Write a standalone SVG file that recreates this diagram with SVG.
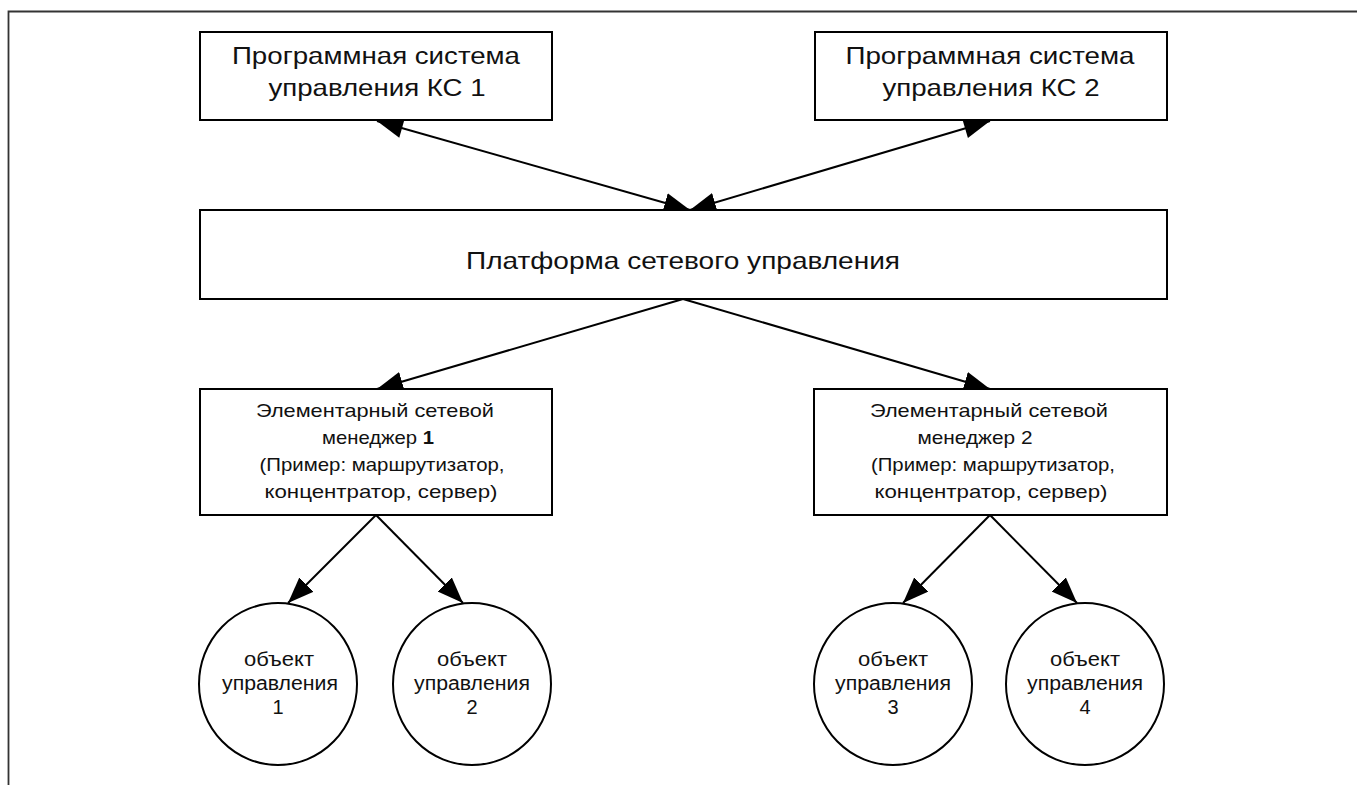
<svg xmlns="http://www.w3.org/2000/svg" width="1357" height="785" viewBox="0 0 1357 785">
<defs>
<style>
.box{fill:#fff;stroke:#000;stroke-width:2}
.frame{fill:none;stroke:#333;stroke-width:1.8}
.t{font-family:"Liberation Sans",Arial,sans-serif;fill:#111;text-anchor:middle}
.big{font-size:24px}
.mid{font-size:18.5px}
.sm{font-size:20px}
.c{fill:none;stroke:#000;stroke-width:2}
</style>
<marker id="ah" markerUnits="userSpaceOnUse" markerWidth="28" markerHeight="22" refX="26" refY="10" orient="auto">
<path d="M0,0 L26,10 L0,20 z" fill="#000"/>
</marker>
<marker id="as" markerUnits="userSpaceOnUse" markerWidth="28" markerHeight="22" refX="0" refY="10" orient="auto">
<path d="M26,0 L0,10 L26,20 z" fill="#000"/>
</marker>
</defs>
<rect width="1357" height="785" fill="#fff"/>
<path class="frame" d="M8.5,785 V11.5 H1357"/>
<g id="connectors" class="c">
<line x1="377" y1="121" x2="690" y2="210" marker-start="url(#as)" marker-end="url(#ah)"/>
<line x1="990" y1="121" x2="690" y2="210" marker-start="url(#as)" marker-end="url(#ah)"/>
<line x1="683" y1="299" x2="377" y2="389" marker-end="url(#ah)"/>
<line x1="683" y1="299" x2="990" y2="389" marker-end="url(#ah)"/>
<line x1="376" y1="515" x2="288" y2="603" marker-end="url(#ah)"/>
<line x1="376" y1="515" x2="463" y2="603" marker-end="url(#ah)"/>
<line x1="990" y1="515" x2="903" y2="603" marker-end="url(#ah)"/>
<line x1="990" y1="515" x2="1077" y2="603" marker-end="url(#ah)"/>
</g>
<g id="ps1">
<rect class="box" x="200" y="32" width="352" height="88"/>
<text class="t big" x="376" y="64" textLength="288" lengthAdjust="spacingAndGlyphs">Программная система</text>
<text class="t big" x="377" y="96" textLength="217" lengthAdjust="spacingAndGlyphs">управления КС 1</text>
</g>
<g id="ps2">
<rect class="box" x="815" y="32" width="352" height="88"/>
<text class="t big" x="990" y="64" textLength="289" lengthAdjust="spacingAndGlyphs">Программная система</text>
<text class="t big" x="991" y="96" textLength="217" lengthAdjust="spacingAndGlyphs">управления КС 2</text>
</g>
<g id="platform">
<rect class="box" x="200" y="210" width="967" height="89"/>
<text class="t big" x="683" y="269" textLength="434" lengthAdjust="spacingAndGlyphs">Платформа сетевого управления</text>
</g>
<g id="em1">
<rect class="box" x="200" y="389" width="352" height="126"/>
<text class="t mid" x="375" y="417" textLength="238" lengthAdjust="spacingAndGlyphs">Элементарный сетевой</text>
<text class="t mid" x="378" y="444" textLength="112" lengthAdjust="spacingAndGlyphs">менеджер <tspan font-weight="bold">1</tspan></text>
<text class="t mid" x="382" y="471" textLength="245" lengthAdjust="spacingAndGlyphs">(Пример: маршрутизатор,</text>
<text class="t mid" x="381" y="498" textLength="233" lengthAdjust="spacingAndGlyphs">концентратор, сервер)</text>
</g>
<g id="em2">
<rect class="box" x="814" y="389" width="353" height="126"/>
<text class="t mid" x="989" y="417" textLength="238" lengthAdjust="spacingAndGlyphs">Элементарный сетевой</text>
<text class="t mid" x="975" y="444" textLength="115" lengthAdjust="spacingAndGlyphs">менеджер 2</text>
<text class="t mid" x="993" y="471" textLength="244" lengthAdjust="spacingAndGlyphs">(Пример: маршрутизатор,</text>
<text class="t mid" x="991" y="498" textLength="233" lengthAdjust="spacingAndGlyphs">концентратор, сервер)</text>
</g>
<g id="obj1">
<ellipse class="box" cx="278" cy="684" rx="79" ry="81"/>
<text class="t sm" x="279" y="666" textLength="70" lengthAdjust="spacingAndGlyphs">объект</text>
<text class="t sm" x="280" y="690" textLength="116" lengthAdjust="spacingAndGlyphs">управления</text>
<text class="t sm" x="278" y="714">1</text>
</g>
<g id="obj2">
<ellipse class="box" cx="472" cy="684" rx="79" ry="81"/>
<text class="t sm" x="472" y="666" textLength="70" lengthAdjust="spacingAndGlyphs">объект</text>
<text class="t sm" x="472" y="690" textLength="116" lengthAdjust="spacingAndGlyphs">управления</text>
<text class="t sm" x="472" y="714">2</text>
</g>
<g id="obj3">
<ellipse class="box" cx="893" cy="684" rx="79" ry="81"/>
<text class="t sm" x="893" y="666" textLength="70" lengthAdjust="spacingAndGlyphs">объект</text>
<text class="t sm" x="893" y="690" textLength="116" lengthAdjust="spacingAndGlyphs">управления</text>
<text class="t sm" x="893" y="714">3</text>
</g>
<g id="obj4">
<ellipse class="box" cx="1085" cy="684" rx="79" ry="81"/>
<text class="t sm" x="1085" y="666" textLength="70" lengthAdjust="spacingAndGlyphs">объект</text>
<text class="t sm" x="1085" y="690" textLength="116" lengthAdjust="spacingAndGlyphs">управления</text>
<text class="t sm" x="1085" y="714">4</text>
</g>
</svg>
